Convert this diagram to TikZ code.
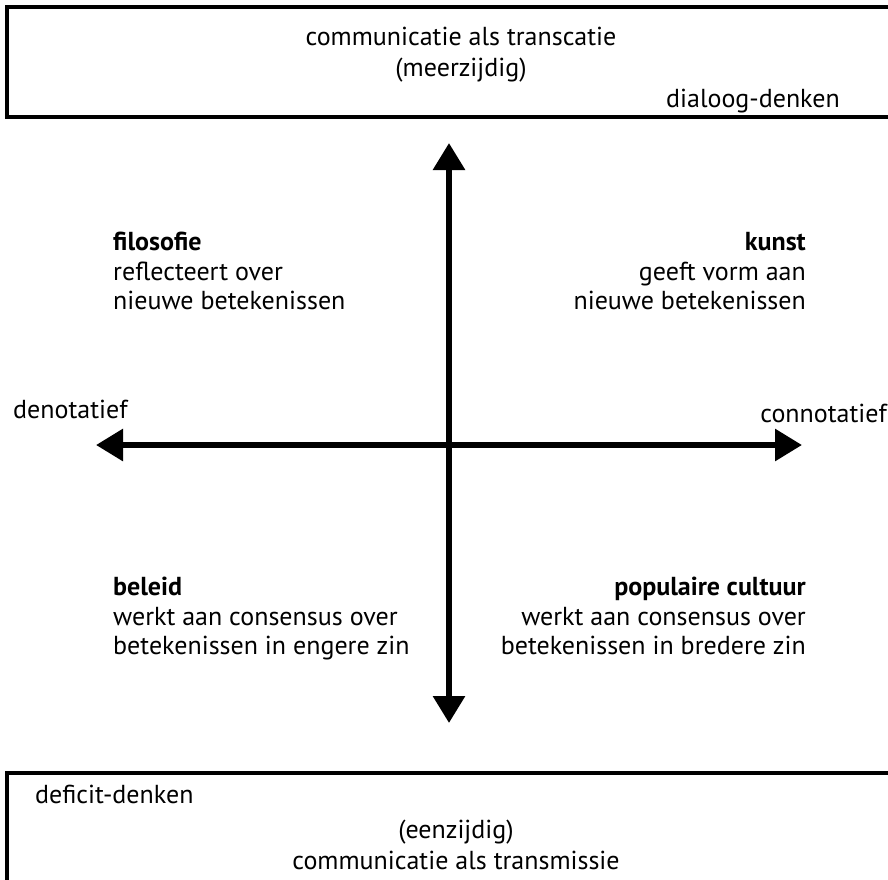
\documentclass[tikz,border=0pt]{standalone}
\usepackage{fontspec}
\setmainfont{PT Sans}
\usetikzlibrary{arrows.meta}
\begin{document}
\begin{tikzpicture}[x=1pt,y=-1pt,
  txt/.style={font=\fontsize{26}{29}\selectfont, inner sep=0pt},
  tl/.style={txt, anchor=base west},
  tr/.style={txt, anchor=base east},
  tc/.style={txt, anchor=base},
  frame/.style={line width=4pt},
  axis/.style={line width=6pt, -{Triangle[width=31pt,length=27pt]}}]
\useasboundingbox (0,0) rectangle (888,879);
\fill[white] (0,0) rectangle (888,879);
% boxes
\draw[frame] (892,7) -- (7,7) -- (7,117) -- (892,117);
\draw[frame] (892,773) -- (7,773) -- (7,885);
% axes
\coordinate (top) at (449,143);
\coordinate (bot) at (449,723);
\coordinate (lft) at (96,445);
\coordinate (rgt) at (802,445);
\coordinate (c) at (449,445);
\draw[axis] (c) -- (top);
\draw[axis] (c) -- (bot);
\draw[axis] (c) -- (lft);
\draw[axis] (c) -- (rgt);
% top box text
\node[tc] (t1) at (461,45) {communicatie als transcatie};
\node[tc] (t2) at (461,76) {(meerzijdig)};
\node[tr] (t3) at (840,107) {dialoog-denken};
% bottom box text
\node[tl] (b1) at (35,803) {deficit-denken};
\node[tc] (b2) at (456,838) {(eenzijdig)};
\node[tc] (b3) at (456,869) {communicatie als transmissie};
% axis labels
\node[tl] (den) at (13,418) {denotatief};
\node[tr] (con) at (887,422) {connotatief};
% quadrants
\node[tl] (fil1) at (113,250) {\textbf{filosofie}};
\node[tl] (fil2) at (113,280) {reflecteert over};
\node[tl] (fil3) at (113,309) {nieuwe betekenissen};
\node[tr] (kun1) at (806,250) {\textbf{kunst}};
\node[tr] (kun2) at (806,280) {geeft vorm aan};
\node[tr] (kun3) at (806,309) {nieuwe betekenissen};
\node[tl] (bel1) at (113,595) {\textbf{beleid}};
\node[tl] (bel2) at (113,625) {werkt aan consensus over};
\node[tl] (bel3) at (113,654) {betekenissen in engere zin};
\node[tr] (pop1) at (806,595) {\textbf{populaire cultuur}};
\node[tr] (pop2) at (806,625) {werkt aan consensus over};
\node[tr] (pop3) at (806,654) {betekenissen in bredere zin};
\end{tikzpicture}
\end{document}
